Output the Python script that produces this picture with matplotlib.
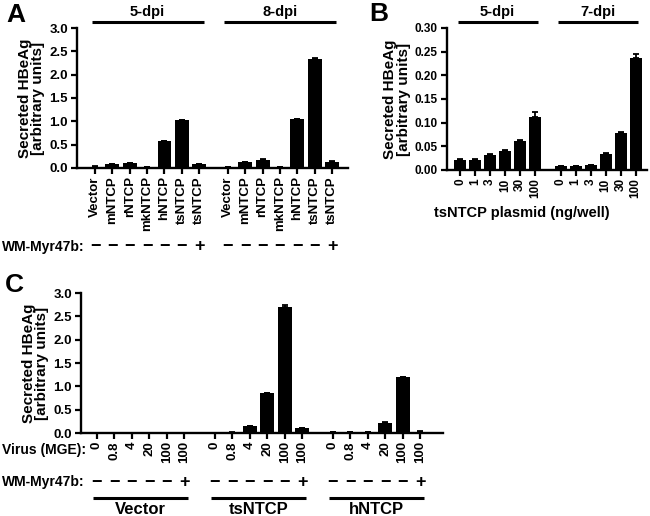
import matplotlib
matplotlib.use("Agg")
import matplotlib.pyplot as plt
import numpy as np
from matplotlib.transforms import blended_transform_factory

plt.rcParams['font.family'] = ['Liberation Sans', 'DejaVu Sans']
plt.rcParams['font.weight'] = 'bold'

# Panel A: NTCP orthologues, 5-dpi and 8-dpi
a_labels = ["Vector", "mNTCP", "rNTCP", "mkNTCP", "hNTCP", "tsNTCP", "tsNTCP"]
a_myr = ["−", "−", "−", "−", "−", "−", "+"]
a_5dpi = [0.03, 0.08, 0.10, 0.02, 0.57, 1.02, 0.08]
a_5dpi_err = [0.003, 0.005, 0.005, 0.002, 0.01, 0.015, 0.005]
a_8dpi = [0.02, 0.12, 0.18, 0.02, 1.04, 2.33, 0.13]
a_8dpi_err = [0.002, 0.01, 0.01, 0.002, 0.02, 0.03, 0.01]

# Panel B: tsNTCP plasmid titration, 5-dpi and 7-dpi
b_labels = ["0", "1", "3", "10", "30", "100"]
b_5dpi = [0.022, 0.022, 0.032, 0.040, 0.061, 0.112]
b_5dpi_err = [0.001, 0.001, 0.002, 0.003, 0.002, 0.010]
b_7dpi = [0.008, 0.008, 0.010, 0.034, 0.079, 0.237]
b_7dpi_err = [0.001, 0.001, 0.001, 0.002, 0.001, 0.008]

# Panel C: virus dose, three cell lines
c_virus = ["0", "0.8", "4", "20", "100", "100"]
c_myr = ["−", "−", "−", "−", "−", "+"]
c_groups = ["Vector", "tsNTCP", "hNTCP"]
c_vector = [0.005, 0.005, 0.005, 0.005, 0.005, 0.005]
c_tsntcp = [0.005, 0.01, 0.15, 0.85, 2.71, 0.10]
c_tsntcp_err = [0.001, 0.002, 0.01, 0.01, 0.04, 0.01]
c_hntcp = [0.015, 0.015, 0.025, 0.22, 1.19, 0.03]
c_hntcp_err = [0.001, 0.001, 0.002, 0.01, 0.01, 0.003]

W, H = 650, 516
fig = plt.figure(figsize=(W / 100, H / 100), dpi=100)


def fy(px):
    return 1 - px / H


def add_axes(left, right, top, bottom):
    return fig.add_axes([left / W, 1 - bottom / H, (right - left) / W,
                         (bottom - top) / H])


def style_axes(ax, ytick_size):
    for side in ["top", "right"]:
        ax.spines[side].set_visible(False)
    for side in ["left", "bottom"]:
        ax.spines[side].set_linewidth(1.7)
    ax.tick_params(width=1.6, length=4.5, labelsize=ytick_size, pad=2)
    ax.tick_params(axis='x', length=4, pad=2)
    ax.set_ylabel("Secreted HBeAg\n[arbitrary units]", fontsize=11,
                  fontweight='bold', linespacing=0.95, labelpad=3)


def draw_bars(ax, pos, vals, errs):
    ax.bar(pos, vals, width=0.8, color='black', zorder=2)
    if errs is not None:
        ax.errorbar(pos, vals, yerr=[np.zeros(len(errs)), errs], fmt='none',
                    ecolor='black', elinewidth=1.3, capsize=2.5,
                    capthick=1.3, zorder=3)


def header(ax, pos, text, line_y, text_y, lpad, rpad, size=10.5):
    trans = blended_transform_factory(ax.transData, fig.transFigure)
    ax.plot([pos[0] - lpad, pos[-1] + rpad], [fy(line_y), fy(line_y)],
            color='black', lw=2.2, transform=trans, clip_on=False,
            solid_capstyle='butt')
    ax.text((pos[0] + pos[-1]) / 2, fy(text_y), text, transform=trans,
            ha='center', va='center', fontsize=size, fontweight='bold')


def sign_row(ax, pos, signs, y):
    trans = blended_transform_factory(ax.transData, fig.transFigure)
    for p, s in zip(pos, signs):
        ax.text(p, fy(y), s, transform=trans, ha='center', va='center',
                fontsize=13, fontweight='bold')


# ---------------- Panel A ----------------
axA = add_axes(77, 348, 28, 168)
a_pos1 = np.arange(7)
a_pos2 = np.arange(7) + 7.65
draw_bars(axA, a_pos1, a_5dpi, a_5dpi_err)
draw_bars(axA, a_pos2, a_8dpi, a_8dpi_err)
axA.set_xlim(-1.04, a_pos2[-1] + 0.92)
axA.set_ylim(0, 3.0)
axA.set_yticks(np.arange(0, 3.01, 0.5))
axA.set_yticklabels(["%.1f" % v for v in np.arange(0, 3.01, 0.5)])
axA.set_xticks(np.concatenate([a_pos1, a_pos2]))
axA.set_xticklabels(a_labels + a_labels, rotation=90, fontsize=9.5,
                    fontweight='bold')
style_axes(axA, 9.5)
header(axA, a_pos1, "5-dpi", 22, 12, 0.2, 0.25)
header(axA, a_pos2, "8-dpi", 22, 12, 0.2, 0.25)
sign_row(axA, a_pos1, a_myr, 247)
sign_row(axA, a_pos2, a_myr, 247)
fig.text(2 / W, fy(247), "WM-Myr47b:", ha='left', va='center', fontsize=10,
         fontweight='bold')

# ---------------- Panel B ----------------
axB = add_axes(447, 647, 28, 170)
b_pos1 = np.arange(6)
b_pos2 = np.arange(6) + 6.7
draw_bars(axB, b_pos1, b_5dpi, b_5dpi_err)
draw_bars(axB, b_pos2, b_7dpi, b_7dpi_err)
axB.set_xlim(-0.87, b_pos2[-1] + 0.75)
axB.set_ylim(0, 0.30)
axB.set_yticks(np.arange(0, 0.301, 0.05))
axB.set_yticklabels(["%.2f" % v for v in np.arange(0, 0.301, 0.05)])
axB.set_xticks(np.concatenate([b_pos1, b_pos2]))
axB.set_xticklabels(b_labels + b_labels, rotation=90, fontsize=8,
                    fontweight='bold')
style_axes(axB, 8.5)
header(axB, b_pos1, "5-dpi", 22, 12, 0.15, 0.17)
header(axB, b_pos2, "7-dpi", 22, 12, 0.15, 0.17)
fig.text(522 / W, fy(213), "tsNTCP plasmid (ng/well)", ha='center',
         va='center', fontsize=10.5, fontweight='bold')

# ---------------- Panel C ----------------
axC = add_axes(81, 443, 293, 433)
c_pos = [np.arange(6) + k * 6.73 for k in range(3)]
draw_bars(axC, c_pos[0], c_vector, None)
draw_bars(axC, c_pos[1], c_tsntcp, c_tsntcp_err)
draw_bars(axC, c_pos[2], c_hntcp, c_hntcp_err)
axC.set_xlim(-0.91, c_pos[2][-1] + 1.31)
axC.set_ylim(0, 3.0)
axC.set_yticks(np.arange(0, 3.01, 0.5))
axC.set_yticklabels(["%.1f" % v for v in np.arange(0, 3.01, 0.5)])
axC.set_xticks(np.concatenate(c_pos))
axC.set_xticklabels(c_virus * 3, rotation=90, fontsize=9.5,
                    fontweight='bold')
style_axes(axC, 9.5)
for pos, name in zip(c_pos, c_groups):
    header(axC, pos, name, 498, 510, 0.2, 0.2, size=12)
    sign_row(axC, pos, c_myr, 482)
fig.text(2 / W, fy(450), "Virus (MGE):", ha='left', va='center',
         fontsize=10, fontweight='bold')
fig.text(2 / W, fy(482), "WM-Myr47b:", ha='left', va='center', fontsize=10,
         fontweight='bold')

# panel letters
fig.text(6 / W, fy(15), "A", ha='left', va='center', fontsize=19,
         fontweight='bold')
fig.text(369 / W, fy(14), "B", ha='left', va='center', fontsize=19,
         fontweight='bold')
fig.text(5 / W, fy(285), "C", ha='left', va='center', fontsize=19,
         fontweight='bold')

fig.savefig("out.png", dpi=100)
